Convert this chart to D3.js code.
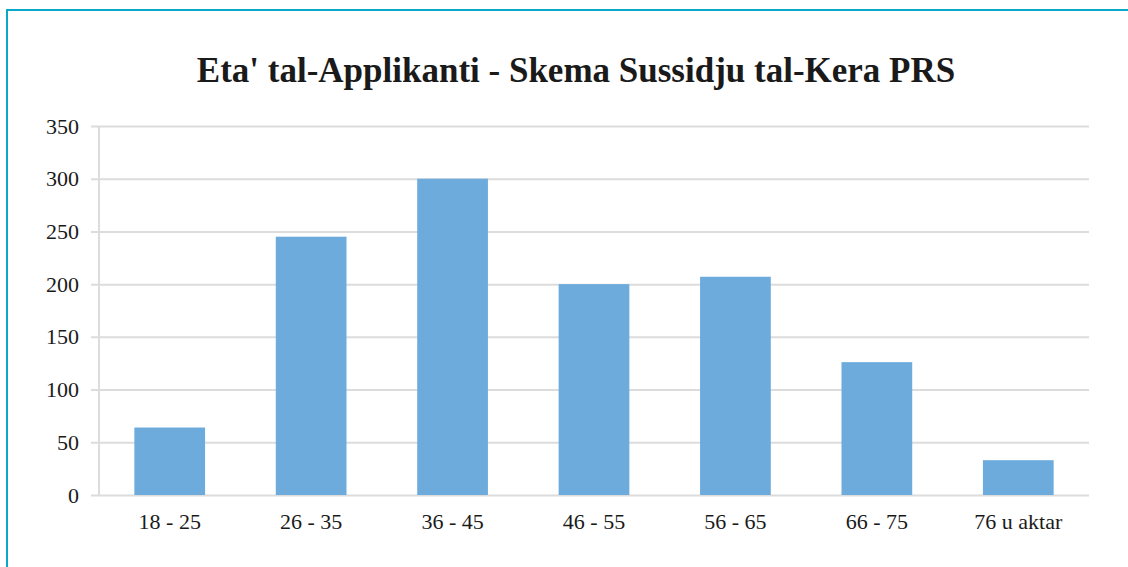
<!DOCTYPE html>
<html>
<head>
<meta charset="utf-8">
<script src="https://cdn.jsdelivr.net/npm/d3@7"></script>
<style>
  html, body { margin: 0; padding: 0; background: #fff; }
  svg { display: block; }
  text { font-family: "Liberation Serif", "Times New Roman", serif; fill: #1a1a1a; }
</style>
</head>
<body>
<svg id="chart"></svg>
<script>
// chart data
const title = "Eta' tal-Applikanti - Skema Sussidju tal-Kera PRS";
const categories = ["18 - 25", "26 - 35", "36 - 45", "46 - 55", "56 - 65", "66 - 75", "76 u aktar"];
const applicants = [64, 245, 300, 200, 207, 126, 33];
const yTicks = [0, 50, 100, 150, 200, 250, 300, 350];

const width = 1128, height = 567;
const margin = { top: 126, right: 39, bottom: 72, left: 99 };

const svg = d3.select("#chart")
    .attr("width", width)
    .attr("height", height);

// frame (only top and left edges fall inside the window)
svg.append("rect")
    .attr("x", 7).attr("y", 10)
    .attr("width", width + 20).attr("height", height + 20)
    .attr("fill", "none")
    .attr("stroke", "#0aa8c8")
    .attr("stroke-width", 2);

svg.append("text")
    .attr("x", 576)
    .attr("y", 82)
    .attr("text-anchor", "middle")
    .style("font-size", "35px")
    .style("font-weight", "bold")
    .text(title);

const x = d3.scaleBand()
    .domain(categories)
    .range([margin.left, width - margin.right])
    .paddingInner(0.5)
    .paddingOuter(0.25);

const y = d3.scaleLinear()
    .domain([0, 350])
    .range([height - margin.bottom, margin.top]);

// gridlines + y labels
const yAxis = svg.append("g")
    .attr("transform", `translate(${margin.left},0)`)
    .call(d3.axisLeft(y).tickValues(yTicks).tickSize(-(width - margin.right - margin.left)).tickSizeOuter(0).tickPadding(20));
yAxis.select(".domain").remove();
yAxis.selectAll(".tick line")
    .attr("x1", -8)
    .attr("stroke", "#dcdcdc")
    .attr("stroke-width", 2);
yAxis.selectAll(".tick text")
    .style("font-size", "22px")
    .attr("fill", "#1a1a1a");

// vertical axis line
svg.append("line")
    .attr("x1", margin.left).attr("x2", margin.left)
    .attr("y1", y(350)).attr("y2", y(0))
    .attr("stroke", "#dcdcdc")
    .attr("stroke-width", 2);

svg.append("g")
    .selectAll("rect")
    .data(applicants)
    .join("rect")
    .attr("x", (d, i) => x(categories[i]))
    .attr("width", x.bandwidth())
    .attr("y", d => y(d))
    .attr("height", d => y(0) - y(d))
    .attr("fill", "#6cabdc");

const xAxis = svg.append("g")
    .attr("transform", `translate(0,${y(0)})`)
    .call(d3.axisBottom(x).tickSize(0).tickPadding(18));
xAxis.select(".domain").remove();
xAxis.selectAll(".tick text")
    .style("font-size", "22px")
    .attr("fill", "#1a1a1a");
</script>
</body>
</html>
